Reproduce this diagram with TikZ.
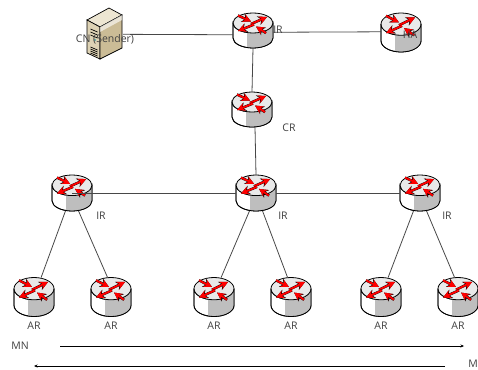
\documentclass[tikz,border=0pt]{standalone}
\usepackage{fontspec}
\setmainfont{Open Sans}
\usetikzlibrary{arrows.meta,positioning}
\definecolor{linegray}{HTML}{484848}
\definecolor{textgray}{HTML}{404040}
\definecolor{bodygray}{HTML}{BEBEBE}
\definecolor{topgray}{HTML}{E9E9E9}
\definecolor{srvfront}{HTML}{DDD2B4}
\definecolor{srvside}{HTML}{CBBC96}
\definecolor{srvtop}{HTML}{EDE6D2}

\tikzset{
    routerbox/.style={minimum width=40pt, minimum height=#1, inner sep=0pt, outer sep=0pt},
    serverbox/.style={minimum width=37pt, minimum height=52pt, inner sep=0pt, outer sep=0pt},
    label/.style={font=\fontsize{10.5}{11}\selectfont, text=textgray, inner sep=0pt},
    link/.style={draw=linegray, line width=0.8pt},
    flow/.style={draw=black, line width=0.7pt, -{Stealth[length=3.5pt,width=3pt]}},
    redarrow/.style={line width=1.9pt, red, -{Stealth[length=8pt,width=8pt]}},
    redshadow/.style={line width=2.5pt, black, -{Stealth[length=9pt,width=9pt]}}
}

% router icon: height, name, position
\newcommand{\router}[3]{
    \node[routerbox=#1pt] (#2) at (#3) {};
    \begin{scope}[shift={(#2.center)}, yscale=#1/35]
        \draw[fill=white, line width=0.8pt] (-20,-7.5) -- (-20,7.5) arc (180:0:20 and 10) -- (20,-7.5) arc (0:180:20 and 10) -- cycle;
        \fill[bodygray] (-6,0) -- (-6,17) arc (107.5:0:19.6 and 9.6) -- (19.6,-7.5) -- cycle;
        \draw[fill=topgray, line width=0.8pt] (0,-7.5) ellipse (20 and 10);
        \draw[line width=0.8pt] (-20,-7.5) -- (-20,7.5) arc (180:0:20 and 10) -- (20,-7.5);
        \foreach \ax/\ay/\bx/\by in {-2/-6.5/14/-13.5, 1/-6/-15/0.5, -15/-15/-2/-9, 13/2.5/3/-4} {
            \draw[redshadow] (\ax,\ay) -- (\bx,\by);
            \draw[redarrow] (\ax,\ay) -- (\bx,\by);
        }
    \end{scope}
}

\begin{document}
\begin{tikzpicture}[x=1pt, y=-1pt]
    \useasboundingbox (0,0) rectangle (478,369);

    % Server
    \node[serverbox] (cn) at (104.5,34) {};
    \begin{scope}[shift={(cn.center)}]
        \draw[fill=srvtop, line width=0.7pt] (-17.5,-14) -- (4.5,-26) -- (17.5,-19) -- (-4.5,-7) -- cycle;
        \draw[fill=srvfront, line width=0.7pt] (-17.5,-14) -- (-4.5,-7) -- (-4.5,25) -- (-17.5,19) -- cycle;
        \draw[fill=srvside, line width=0.7pt] (-4.5,-7) -- (17.5,-19) -- (17.5,14) -- (-4.5,25) -- cycle;
        \fill[white, opacity=0.6] (-4.5,-7) -- (17.5,-19) -- (17.5,-14) -- (-4.5,-2) -- cycle;
        \foreach \y in {-5,-2,1,13,15,17,19}
            \draw[line width=0.7pt] (-14,\y) -- (-7,\y+3);
        \fill[teal!70] (-9.5,6) circle (1.2);
    \end{scope}

    % Routers
    \router{35}{ir}{253,30.5}
    \router{39}{ha}{401,32.5}
    \router{35}{cr}{252,109.5}
    \router{36}{irleft}{72,193}
    \router{36}{irmid}{256,193}
    \router{36}{irright}{420,193}
    \router{39}{arone}{34,297}
    \router{39}{artwo}{111,297}
    \router{39}{arthree}{214,297}
    \router{39}{arfour}{291,297}
    \router{39}{arfive}{381,297}
    \router{39}{arsix}{458,297}

    % Links
    \draw[link] (cn.-1) -- (ir.192);
    \draw[link] (ir.-5) -- (ha.178);
    \draw[link] (ir.south) -- (cr.north);
    \draw[link] (cr.south) ++(3,0) -- (irmid.north);
    \draw[link] (irleft.center) -- (irmid.west);
    \draw[link] (irmid.east) -- (irright.west);
    \draw[link] (irleft.-110) -- (arone.70);
    \draw[link] (irleft.-70) -- (artwo.100);
    \draw[link] (irmid.-110) -- (arthree.70);
    \draw[link] (irmid.-70) -- (arfour.100);
    \draw[link] (irright.-110) -- (arfive.70);
    \draw[link] (irright.-70) -- (arsix.100);

    % Labels
    \node[label] (cnlabel) at (105,39) {CN (Sender)};
    \node[label] (irlabel) at (278,30) {IR};
    \node[label] (halabel) at (410,35) {HA};
    \node[label] (crlabel) at (289,128) {CR};
    \node[label] (irleftlabel) at (101,216) {IR};
    \node[label] (irmidlabel) at (283,216) {IR};
    \node[label] (irrightlabel) at (447,216) {IR};
    \node[label, below=5pt of arone] (aronelabel) {AR};
    \node[label, below=5pt of artwo] (artwolabel) {AR};
    \node[label, below=5pt of arthree] (arthreelabel) {AR};
    \node[label, below=5pt of arfour] (arfourlabel) {AR};
    \node[label, below=5pt of arfive] (arfivelabel) {AR};
    \node[label, below=5pt of arsix] (arsixlabel) {AR};

    % Direction of travel
    \node[label] (mnstart) at (20,346) {MN};
    \node[label, anchor=east] (mnend) at (478,364) {M};
    \coordinate (flowa) at (60,346);
    \coordinate (flowb) at (464,346);
    \coordinate (flowc) at (445,366);
    \coordinate (flowd) at (34,366);
    \draw[flow] (flowa) -- (flowb);
    \draw[flow] (flowc) -- (flowd);
\end{tikzpicture}
\end{document}
